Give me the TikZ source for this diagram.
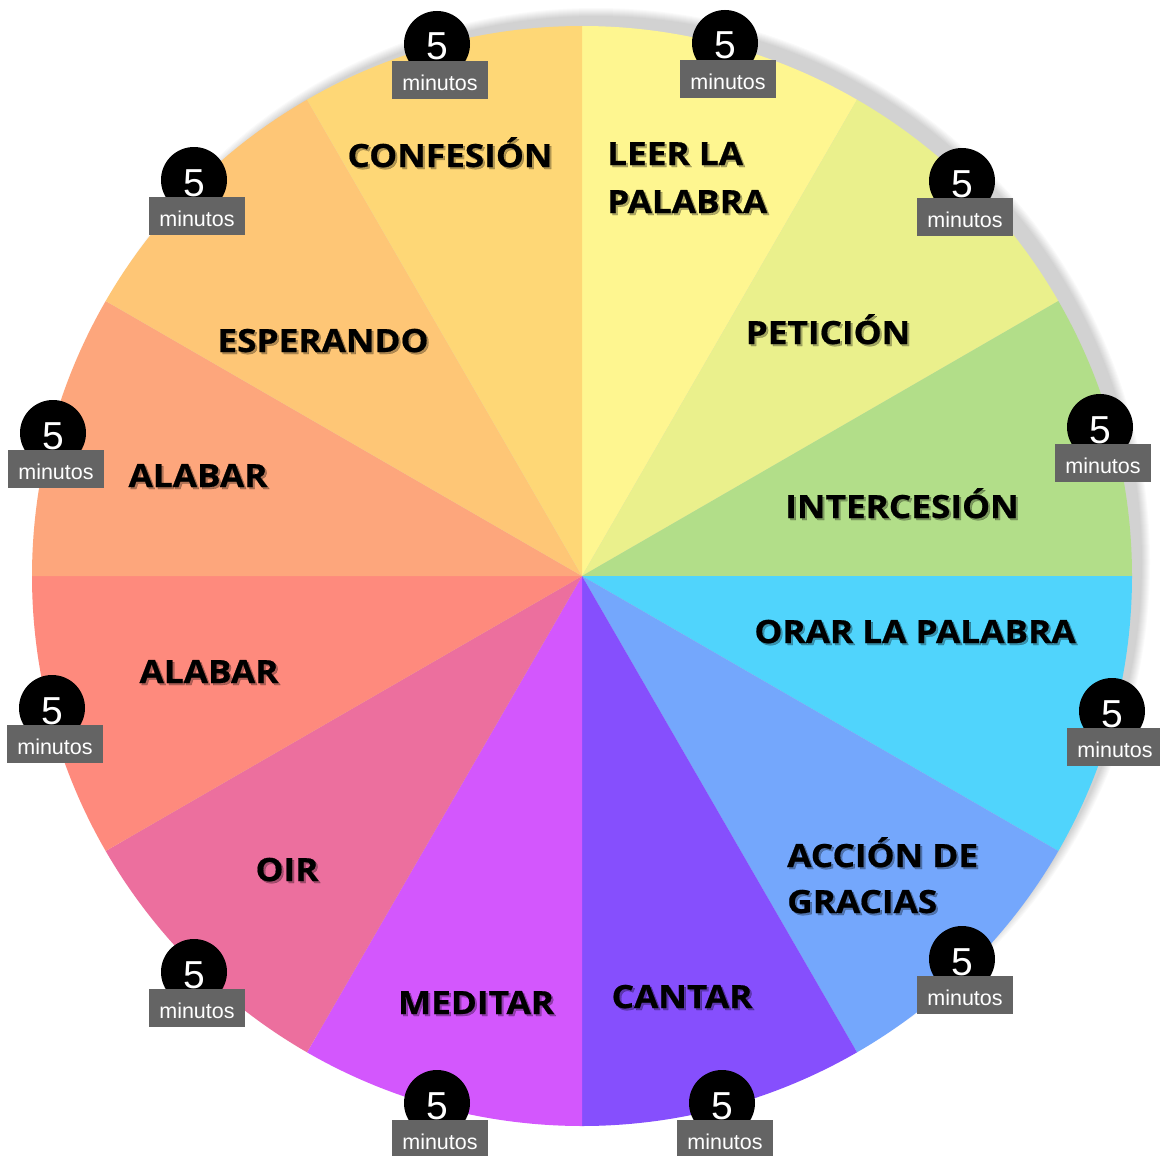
\documentclass[tikz,border=0pt]{standalone}
\usepackage{fontspec}
\newfontfamily\lblfont{Open Sans}[FakeStretch=1.1, BoldFeatures={FakeBold=0.6}]
\newfontfamily\badgefont{Liberation Sans}
\definecolor{cLeer}{HTML}{FEF690}
\definecolor{cPet}{HTML}{EAF08C}
\definecolor{cInt}{HTML}{B2DE89}
\definecolor{cOrar}{HTML}{50D4FC}
\definecolor{cAcc}{HTML}{74A7FC}
\definecolor{cCant}{HTML}{864FFD}
\definecolor{cMed}{HTML}{D357FD}
\definecolor{cOir}{HTML}{EC6F9E}
\definecolor{cAlabB}{HTML}{FE8A7D}
\definecolor{cAlabA}{HTML}{FDA67C}
\definecolor{cEsp}{HTML}{FEC676}
\definecolor{cConf}{HTML}{FED776}
\definecolor{badgegray}{HTML}{646464}
\tikzset{
  lbl/.style={inner sep=0pt, text=black, font=\lblfont\bfseries\fontsize{32}{38}\selectfont},
  lblsh/.style={inner sep=0pt, text=black, opacity=0.3, font=\lblfont\bfseries\fontsize{32}{38}\selectfont},
  badgecirc/.style={circle, fill=black, minimum size=66pt, inner sep=0pt, text=white,
    text height=32pt, text depth=0pt,
    font=\badgefont\fontsize{39}{40}\selectfont},
  badgerect/.style={rectangle, fill=badgegray, minimum width=96pt, minimum height=38pt, inner sep=0pt,
    text height=21.5pt, text depth=0pt,
    text=white, font=\badgefont\fontsize{21.5}{22}\selectfont},
}
\newcommand\lbl[5]{%
  \node[lblsh,anchor=#4] (#1s) at ({#2+2},{#3+2}) {#5};
  \node[lbl,anchor=#4] (#1) at (#2,#3) {#5};}
\newcommand\badge[3]{%
  \node[badgecirc] (#1c) at (#2,#3) {5};
  \node[badgerect] (#1r) at ({#2+3},{#3+36}) {minutos};}
\begin{document}
\begin{tikzpicture}[x=1pt,y=-1pt]
\useasboundingbox (0,0) rectangle (1160,1156);
\fill[white] (0,0) rectangle (1160,1156);
% shadow
\coordinate (shc) at (596,562);
\foreach \k in {-4,-3,-2,-1,0,1,2,3,4}{
  \fill[black, opacity=0.02] (shc) circle[radius=550+\k];
}
\coordinate (ctr) at (582,576);
% wedges (TikZ angle = - visual angle)
\fill[cLeer]  (ctr) -- +(-90:550)  arc[start angle=-90,  end angle=-60,  radius=550] -- cycle;
\fill[cPet]   (ctr) -- +(-60:550)  arc[start angle=-60,  end angle=-30,  radius=550] -- cycle;
\fill[cInt]   (ctr) -- +(-30:550)  arc[start angle=-30,  end angle=0,    radius=550] -- cycle;
\fill[cOrar]  (ctr) -- +(0:550)    arc[start angle=0,    end angle=30,   radius=550] -- cycle;
\fill[cAcc]   (ctr) -- +(30:550)   arc[start angle=30,   end angle=60,   radius=550] -- cycle;
\fill[cCant]  (ctr) -- +(60:550)   arc[start angle=60,   end angle=90,   radius=550] -- cycle;
\fill[cMed]   (ctr) -- +(90:550)   arc[start angle=90,   end angle=120,  radius=550] -- cycle;
\fill[cOir]   (ctr) -- +(120:550)  arc[start angle=120,  end angle=150,  radius=550] -- cycle;
\fill[cAlabB] (ctr) -- +(150:550)  arc[start angle=150,  end angle=180,  radius=550] -- cycle;
\fill[cAlabA] (ctr) -- +(180:550)  arc[start angle=180,  end angle=210,  radius=550] -- cycle;
\fill[cEsp]   (ctr) -- +(210:550)  arc[start angle=210,  end angle=240,  radius=550] -- cycle;
\fill[cConf]  (ctr) -- +(240:550)  arc[start angle=240,  end angle=270,  radius=550] -- cycle;
% labels
\lbl{conf}{450}{167}{base}{CONFESIÓN}
\lbl{leerA}{607}{165}{base west}{LEER LA}
\lbl{leerB}{607}{213}{base west}{PALABRA}
\lbl{pet}{828}{344}{base}{PETICIÓN}
\lbl{inter}{902}{518}{base}{INTERCESIÓN}
\lbl{orar}{915}{643}{base}{ORAR LA PALABRA}
\lbl{accA}{787}{867}{base west}{ACCIÓN DE}
\lbl{accB}{787}{913}{base west}{GRACIAS}
\lbl{cant}{682}{1008}{base}{CANTAR}
\lbl{med}{476}{1014}{base}{MEDITAR}
\lbl{oir}{287}{881}{base}{OIR}
\lbl{alabB}{209}{683}{base}{ALABAR}
\lbl{alabA}{198}{487}{base}{ALABAR}
\lbl{esp}{323}{352}{base}{ESPERANDO}
% badges
\badge{bA}{437}{44}
\badge{bB}{725}{43}
\badge{bC}{962}{181}
\badge{bD}{1100}{427}
\badge{bE}{1112}{711}
\badge{bF}{962}{959}
\badge{bG}{722}{1103}
\badge{bH}{437}{1103}
\badge{bI}{194}{972}
\badge{bJ}{52}{708}
\badge{bK}{53}{433}
\badge{bL}{194}{180}
\end{tikzpicture}
\end{document}
